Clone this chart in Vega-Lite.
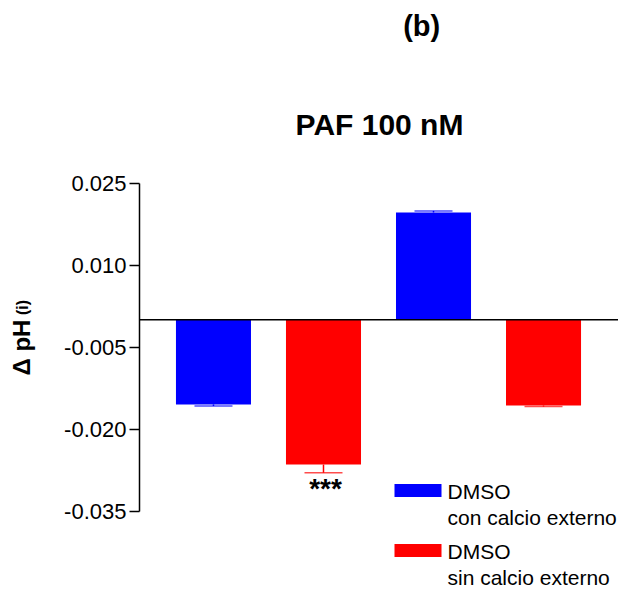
{
  "$schema": "https://vega.github.io/schema/vega-lite/v6.json",
  "padding": {"left": 10, "top": 13, "right": 0, "bottom": 0},
  "background": "white",
  "config": {
    "font": "Liberation Sans",
    "view": {"stroke": null},
    "style": {"guide-label": {"lineHeight": 26}}
  },
  "title": {
    "text": "(b)",
    "fontSize": 29,
    "fontWeight": "bold",
    "color": "black",
    "anchor": "middle",
    "dx": 107,
    "offset": 69
  },
  "vconcat": [
    {
      "width": 479,
      "height": 328,
      "title": {
        "text": "PAF 100 nM",
        "fontSize": 30,
        "fontWeight": "bold",
        "color": "black",
        "anchor": "middle",
        "dx": 1,
        "offset": 31
      },
      "data": {
        "values": [
          {"grupo": "1", "condicion": "con calcio externo", "valor": -0.0155, "extremo": -0.0158, "sig": ""},
          {"grupo": "2", "condicion": "sin calcio externo", "valor": -0.0265, "extremo": -0.028, "sig": "***"},
          {"grupo": "3", "condicion": "con calcio externo", "valor": 0.0196, "extremo": 0.0199, "sig": ""},
          {"grupo": "4", "condicion": "sin calcio externo", "valor": -0.0157, "extremo": -0.0159, "sig": ""}
        ]
      },
      "resolve": {"scale": {"y": "independent"}, "axis": {"y": "independent"}},
      "layer": [
        {
          "layer": [
            {
              "mark": {"type": "bar"},
              "encoding": {
                "x": {"field": "grupo", "type": "nominal", "axis": null, "scale": {"paddingInner": 0.318, "paddingOuter": 0.336}},
                "y": {
                  "field": "valor",
                  "type": "quantitative",
                  "scale": {"domain": [-0.035, 0.025], "nice": false, "zero": false},
                  "axis": {
                    "orient": "left",
                    "values": [0.025, 0.01, -0.005, -0.02, -0.035],
                    "labelExpr": "(datum.value < 0 ? '-' : '') + format(abs(datum.value), '.3f')",
                    "title": "Δ pH",
                    "titleFontSize": 24,
                    "titleFontWeight": "bold",
                    "titleColor": "black",
                    "titlePadding": 29,
                    "labelFontSize": 22,
                    "labelColor": "black",
                    "labelPadding": 3,
                    "tickSize": 10,
                    "tickWidth": 1.5,
                    "tickColor": "black",
                    "domainColor": "black",
                    "domainWidth": 1.5,
                    "grid": false
                  }
                },
                "color": {
                  "field": "condicion",
                  "type": "nominal",
                  "scale": {"domain": ["con calcio externo", "sin calcio externo"], "range": ["#0000ff", "#ff0000"]},
                  "legend": {
                    "orient": "none",
                    "legendX": 255,
                    "legendY": 288,
                    "title": null,
                    "padding": 0,
                    "symbolType": "M-2.35,0.24H2.35V1.56H-2.35Z",
                    "symbolSize": 400,
                    "symbolOffset": 13.5,
                    "symbolStrokeWidth": 0,
                    "symbolOpacity": 1,
                    "labelFontSize": 21,
                    "labelColor": "black",
                    "labelBaseline": "top",
                    "labelOffset": 19,
                    "labelLimit": 300,
                    "rowPadding": 2,
                    "labelExpr": "['DMSO', (datum.label == 'con calcio externo' ? '\u00a0' : '') + datum.label]"
                  }
                }
              }
            },
            {
              "mark": {"type": "rule", "strokeWidth": 1.5},
              "encoding": {
                "x": {"field": "grupo", "type": "nominal"},
                "y": {"field": "valor", "type": "quantitative"},
                "y2": {"field": "extremo"},
                "color": {"field": "condicion", "type": "nominal", "legend": null}
              }
            },
            {
              "mark": {"type": "tick", "size": 38, "thickness": 1.5},
              "encoding": {
                "x": {"field": "grupo", "type": "nominal"},
                "y": {"field": "extremo", "type": "quantitative"},
                "color": {"field": "condicion", "type": "nominal", "legend": null}
              }
            },
            {
              "mark": {"type": "text", "fontSize": 28, "fontWeight": "bold", "baseline": "alphabetic", "dy": 25, "dx": 2, "color": "black"},
              "encoding": {
                "x": {"field": "grupo", "type": "nominal"},
                "y": {"field": "extremo", "type": "quantitative"},
                "text": {"field": "sig"}
              }
            }
          ]
        },
        {
          "data": {"values": [{"cero": 0}]},
          "mark": {"type": "rule", "color": "black", "strokeWidth": 1.5},
          "encoding": {
            "y": {
              "field": "cero",
              "type": "quantitative",
              "scale": {"domain": [-0.035, 0.025], "nice": false, "zero": false},
              "axis": {
                "orient": "left",
                "title": "(i)",
                "titleFontSize": 16,
                "titleFontWeight": "bold",
                "titleColor": "black",
                "titleX": -109,
                "titleY": 124,
                "titleAlign": "center",
                "titleBaseline": "bottom",
                "labels": false,
                "ticks": false,
                "domain": false,
                "grid": false
              }
            }
          }
        }
      ]
    }
  ]
}
